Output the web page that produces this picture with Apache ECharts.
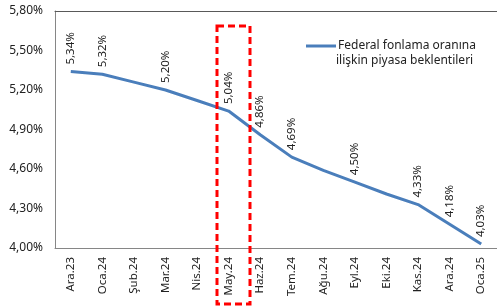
<!DOCTYPE html>
<html>
<head>
<meta charset="utf-8">
<script src="https://cdn.jsdelivr.net/npm/echarts@6/dist/echarts.min.js"></script>
<style>
  html, body { margin: 0; padding: 0; background: #fff; }
  #chart { width: 497px; height: 306px; }
</style>
</head>
<body>
<div id="chart"></div>
<script>
// aylar
const months = ['Ara.23', 'Oca.24', 'Şub.24', 'Mar.24', 'Nis.24', 'May.24', 'Haz.24',
  'Tem.24', 'Ağu.24', 'Eyl.24', 'Eki.24', 'Kas.24', 'Ara.24', 'Oca.25'];
// piyasa beklentileri (%)
const expectations = [5.34, 5.32, 5.26, 5.20, 5.12, 5.04, 4.86, 4.69, 4.59, 4.50, 4.41, 4.33, 4.18, 4.03];
// etiket gösterilen aylar
const labelled = [true, true, false, true, false, true, true, true, false, true, false, true, true, true];
const seriesName = 'Federal fonlama oranına';
const seriesName2 = 'ilişkin piyasa beklentileri';

const fmt = v => v.toFixed(2).replace('.', ',') + '%';
const font = 'Noto Sans';

const chart = echarts.init(document.getElementById('chart'));
const option = {
  animation: false,
  textStyle: { fontFamily: font },
  grid: { left: 55, right: -6, top: 11, bottom: 58 },
  legend: {
    left: 301, top: 35,
    itemWidth: 30, itemHeight: 3, itemGap: 0,
    icon: 'rect',
    textStyle: { fontSize: 12, color: '#222', fontFamily: font, padding: [0, 0, 0, -3] },
    data: [seriesName]
  },
  xAxis: [{
    type: 'category',
    data: months,
    axisLine: { lineStyle: { color: '#868686', width: 1 } },
    axisTick: { show: false },
    axisLabel: { rotate: 90, fontSize: 11.5, color: '#222', margin: 9, fontFamily: font }
  }, {
    type: 'category',
    position: 'top',
    data: months,
    axisLine: { lineStyle: { color: '#595959', width: 1 } },
    axisTick: { show: false },
    axisLabel: { show: false }
  }],
  yAxis: {
    type: 'value',
    min: 4, max: 5.8, interval: 0.3,
    axisLine: { show: true, lineStyle: { color: '#868686' } },
    axisTick: { show: false },
    splitLine: { show: false },
    axisLabel: { formatter: fmt, fontSize: 12, color: '#222', margin: 12, fontFamily: font }
  },
  series: [{
    name: seriesName,
    type: 'line',
    data: expectations.map((v, i) => ({
      value: v,
      label: { show: labelled[i] }
    })),
    symbol: 'circle',
    symbolSize: 0,
    showSymbol: true,
    lineStyle: { color: '#4a7ebb', width: 3 },
    itemStyle: { color: '#4a7ebb' },
    label: {
      show: true,
      position: 'top', distance: 7, rotate: 90,
      align: 'left', verticalAlign: 'middle',
      fontSize: 11.5, color: '#222', fontFamily: font,
      formatter: p => fmt(p.value)
    },
    labelLayout: { hideOverlap: false }
  }],
  graphic: [{
    type: 'text',
    left: 336, top: 55,
    style: { text: seriesName2, fontSize: 12, fill: '#222', fontFamily: font }
  }, {
    type: 'rect',
    shape: { x: 217, y: 26, width: 33, height: 278 },
    style: { fill: 'none', stroke: '#ff0000', lineWidth: 3, lineDash: [7, 4] },
    z: 10
  }]
};
chart.setOption(option);
</script>
</body>
</html>
